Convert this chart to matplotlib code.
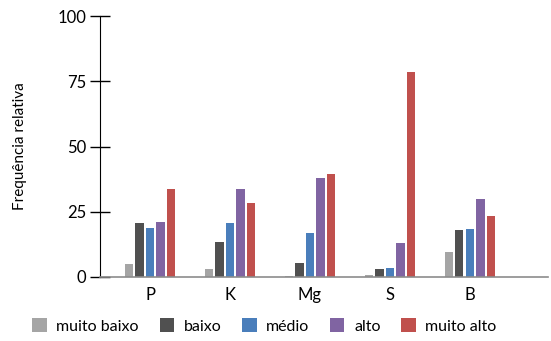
"""
Frequencia relativa das classes de teor por nutriente
"""
import numpy as np
import matplotlib
matplotlib.use("Agg")
import matplotlib.pyplot as plt

plt.rcParams['font.family'] = ['Lato', 'DejaVu Sans']

nutrientes = ['P', 'K', 'Mg', 'S', 'B']
classes = ['muito baixo', 'baixo', 'médio', 'alto', 'muito alto']
muito_baixo = [5.0, 3.1, 0.5, 0.9, 9.7]
baixo = [20.7, 13.4, 5.4, 3.0, 18.0]
medio = [18.8, 20.7, 17.0, 3.6, 18.4]
alto = [21.0, 33.7, 37.9, 13.0, 29.8]
muito_alto = [33.7, 28.4, 39.3, 78.5, 23.4]
series = [muito_baixo, baixo, medio, alto, muito_alto]
cores = ['#A5A5A5', '#505050', '#4A7EBB', '#8064A2', '#C0504D']

fig = plt.figure(figsize=(5.51, 3.41), dpi=100)
ax = fig.add_axes([0.1815, 0.1877, 0.813, 0.7653])

x = np.arange(len(nutrientes))
step = 0.133
width = 0.104
for i, (vals, cor, nome) in enumerate(zip(series, cores, classes)):
    ax.bar(x + (i - 2) * step, vals, width, color=cor, label=nome,
           edgecolor='none')

ax.set_xlim(-0.625, 4.975)
ax.set_ylim(0, 100)
ax.set_yticks([0, 25, 50, 75, 100])
ax.set_xticks(x)
ax.set_xticklabels(nutrientes, fontsize=12)
ax.tick_params(axis='x', length=0, pad=7)
ax.tick_params(axis='y', direction='inout', length=14, width=1, labelsize=12, pad=3)

for s in ['top', 'right']:
    ax.spines[s].set_visible(False)
ax.spines['left'].set_color('black')
ax.spines['bottom'].set_color('#8C8C8C')
ax.spines['bottom'].set_linewidth(1.2)

ax.set_ylabel('Frequência relativa', fontsize=11, labelpad=22)

fig.legend(loc='center', bbox_to_anchor=(0.48, 0.044), ncol=5, frameon=False,
           fontsize=11.5, handlelength=0.9, handleheight=0.9, handletextpad=0.6,
           columnspacing=1.3)

fig.savefig('out.png', dpi=100)
